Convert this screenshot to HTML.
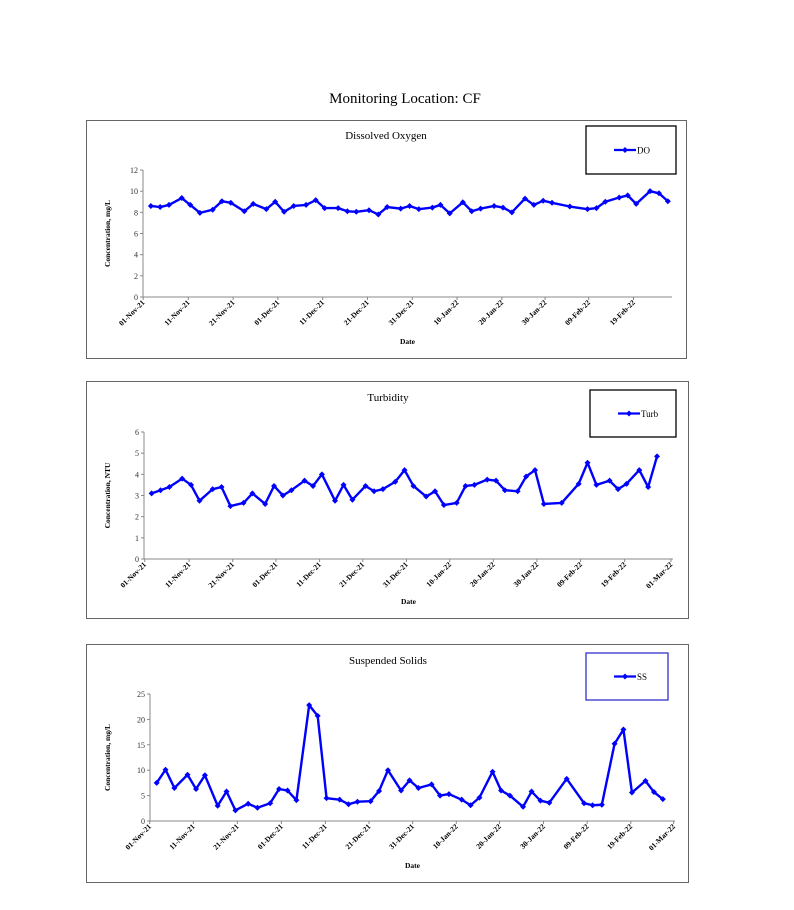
<!DOCTYPE html>
<html><head><meta charset="utf-8"><style>
html,body{margin:0;padding:0;background:#fff;}
svg{display:block;font-family:"Liberation Serif",serif;}
</style></head><body>
<svg id="s" width="794" height="910" xmlns="http://www.w3.org/2000/svg">
<text x="405" y="103" font-size="15" text-anchor="middle">Monitoring Location: CF</text>
</svg>
<script>
const S=document.getElementById('s');const NS='http://www.w3.org/2000/svg';
function el(t,a,txt){const e=document.createElementNS(NS,t);for(const k in a)e.setAttribute(k,a[k]);if(txt!=null)e.textContent=txt;S.appendChild(e);return e;}
const K=2.59;
const labels=['01-Nov-21','11-Nov-21','21-Nov-21','01-Dec-21','11-Dec-21','21-Dec-21','31-Dec-21','10-Jan-22','20-Jan-22','30-Jan-22','09-Feb-22','19-Feb-22','01-Mar-22'];
const charts=[
{box:[86,120,686,358],title:'Dissolved Oxygen',tx:386,ty:139,y0:297,yT:170,max:12,step:2,axL:143,axR:672,ylab:'Concentration, mg/L',
 ticks:[148,265,381,497,613,729,845,961,1077,1189,1302,1418],leg:[586,126,676,174,'#000','DO'],
 d:[168,8.6,192,8.5,215,8.7,248,9.35,270,8.7,295,7.95,328,8.25,352,9.05,375,8.9,410,8.1,433,8.8,467,8.3,490,9.0,513,8.05,538,8.6,570,8.7,595,9.15,618,8.4,653,8.4,677,8.1,700,8.05,733,8.2,757,7.8,780,8.5,815,8.35,838,8.6,862,8.3,897,8.45,918,8.7,942,7.9,976,8.95,999,8.1,1022,8.35,1057,8.6,1080,8.45,1103,8.0,1137,9.3,1160,8.7,1184,9.1,1207,8.9,1253,8.55,1299,8.3,1322,8.4,1345,9.0,1381,9.4,1403,9.6,1425,8.8,1461,10.0,1484,9.8,1507,9.05]},
{box:[86,381,688,618],title:'Turbidity',tx:388,ty:401,y0:559,yT:432,max:6,step:1,axL:144,axR:673,ylab:'Concentration, NTU',
 ticks:[152,267,380,492,605,717,830,942,1055,1168,1281,1395,1515],leg:[590,390,676,437,'#000','Turb'],
 d:[170,3.1,193,3.25,216,3.4,249,3.8,272,3.5,294,2.75,328,3.3,351,3.4,374,2.5,408,2.65,431,3.1,464,2.6,487,3.45,510,3.0,532,3.25,566,3.7,588,3.45,611,4.0,645,2.75,667,3.5,690,2.8,724,3.45,746,3.2,769,3.3,801,3.65,825,4.2,848,3.45,881,2.95,904,3.2,927,2.55,960,2.65,983,3.45,1006,3.5,1039,3.75,1062,3.7,1085,3.25,1118,3.2,1140,3.9,1163,4.2,1186,2.6,1232,2.65,1276,3.55,1299,4.55,1322,3.5,1356,3.7,1378,3.3,1400,3.55,1433,4.2,1456,3.4,1479,4.85]},
{box:[86,644,688,882],title:'Suspended Solids',tx:388,ty:664,y0:821,yT:694,max:25,step:5,axL:150,axR:675,ylab:'Concentration, mg/L',
 ticks:[165,278,392,506,620,733,846,959,1071,1185,1298,1411,1522],leg:[586,653,668,700,'#33c','SS'],
 d:[183,7.5,206,10.1,229,6.5,263,9.1,285,6.3,308,9.0,341,3.0,364,5.8,387,2.1,420,3.4,444,2.6,477,3.5,500,6.3,522,6.0,545,4.1,578,22.8,600,20.7,623,4.5,657,4.2,680,3.3,703,3.8,737,3.9,759,5.9,782,10.0,816,6.0,838,8.0,861,6.5,895,7.2,917,5.0,940,5.3,973,4.2,996,3.1,1019,4.6,1053,9.7,1075,6.0,1098,5.0,1132,2.8,1154,5.8,1177,4.0,1200,3.6,1245,8.3,1290,3.5,1312,3.1,1336,3.2,1369,15.2,1392,18.0,1414,5.6,1449,7.9,1471,5.7,1494,4.3]}
];
function dia(x,y){el('path',{d:`M${x} ${y-3}L${x+3} ${y}L${x} ${y+3}L${x-3} ${y}Z`,fill:'#0000ff'});}
charts.forEach(c=>{
 const [bx,by,bx2,by2]=c.box;
 el('rect',{x:bx+.5,y:by+.5,width:bx2-bx,height:by2-by,fill:'none',stroke:'#666','stroke-width':1});
 el('text',{x:c.tx,y:c.ty,'font-size':11,'text-anchor':'middle'},c.title);
 const sy=v=>c.y0-(c.y0-c.yT)*v/c.max;
 el('line',{x1:c.axL,y1:c.yT,x2:c.axL,y2:c.y0,stroke:'#888'});
 el('line',{x1:c.axL,y1:c.y0,x2:c.axR,y2:c.y0,stroke:'#888'});
 for(let v=0;v<=c.max;v+=c.step){const y=sy(v);
  el('line',{x1:c.axL-3,y1:y,x2:c.axL,y2:y,stroke:'#888'});
  el('text',{x:c.axL-5,y:y+3,'font-size':8,'text-anchor':'end',fill:'#333'},v);}
 c.ticks.forEach((t,i)=>{const x=bx+t/K;
  el('line',{x1:x,y1:c.y0,x2:x,y2:c.y0+3,stroke:'#888'});
  el('text',{x:x+2,y:c.y0+6,'font-size':7.5,'font-weight':'bold','text-anchor':'end',transform:`rotate(-45 ${x+2} ${c.y0+6})`},labels[i]);});
 el('text',{x:(c.axL+c.axR)/2,y:by2-14,'font-size':7.5,'font-weight':'bold','text-anchor':'middle'},'Date');
 const yl=(c.y0+c.yT)/2;
 el('text',{x:bx+24,y:yl,'font-size':7.5,'font-weight':'bold','text-anchor':'middle',transform:`rotate(-90 ${bx+24} ${yl})`},c.ylab);
 let pts=[];for(let i=0;i<c.d.length;i+=2)pts.push([bx+c.d[i]/K,sy(c.d[i+1])]);
 el('polyline',{points:pts.map(p=>p.join(',')).join(' '),fill:'none',stroke:'#0000ff','stroke-width':2.4,'stroke-linejoin':'round'});
 pts.forEach(p=>dia(p[0],p[1]));
 const [lx,ly,lx2,ly2,lc,ln]=c.leg;
 el('rect',{x:lx,y:ly,width:lx2-lx,height:ly2-ly,fill:'#fff',stroke:lc,'stroke-width':1.3});
 const my=(ly+ly2)/2;
 el('line',{x1:lx+28,y1:my,x2:lx+50,y2:my,stroke:'#0000ff','stroke-width':2.2});
 dia(lx+39,my);
 el('text',{x:lx+51,y:my+3.5,'font-size':9},ln);
});
</script>
</body></html>
